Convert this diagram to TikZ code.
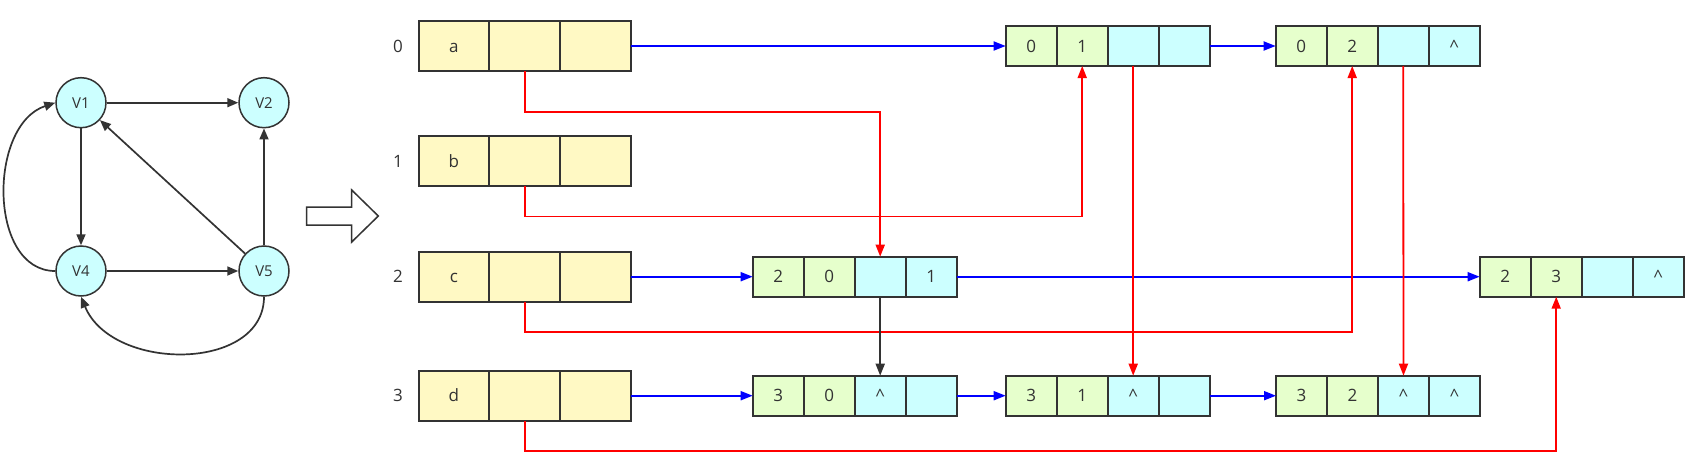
\documentclass[tikz,border=0pt]{standalone}
\usepackage{fontspec}
\setmainfont{Open Sans}
\usetikzlibrary{arrows.meta}
\definecolor{bd}{HTML}{333333}
\definecolor{yel}{HTML}{FFF9C4}
\definecolor{grn}{HTML}{E6FFCC}
\definecolor{cyn}{HTML}{CCFFFF}
\definecolor{rl}{HTML}{FF0000}
\definecolor{bl}{HTML}{0000FF}
\begin{document}
\begin{tikzpicture}[x=1pt,y=-1pt,
  cellfont/.style={font=\fontsize{17}{20}\selectfont,text=bd,text height=12.5pt,text depth=0pt},
  vcell/.style={draw=bd,line width=2pt,fill=yel,minimum width=70.8pt,minimum height=50pt,inner sep=0pt,outer sep=0pt,anchor=west,cellfont},
  gcell/.style={draw=bd,line width=2pt,fill=grn,minimum width=51pt,minimum height=40pt,inner sep=0pt,outer sep=0pt,anchor=west,cellfont},
  ccell/.style={gcell,fill=cyn},
  idx/.style={font=\fontsize{17}{20}\selectfont,text=bd,text height=12.5pt,text depth=0pt,inner sep=0pt},
  vert/.style={circle,draw=bd,line width=1.5pt,fill=cyn,minimum size=50pt,inner sep=0pt,font=\fontsize{15}{18}\selectfont,text=bd},
  gedge/.style={draw=bd,line width=1.7pt,-{Triangle[length=11pt,width=9pt]}},
  redl/.style={draw=rl,line width=1.8pt,-{Triangle[length=12pt,width=9pt]}},
  blul/.style={draw=bl,line width=1.8pt,-{Triangle[length=12pt,width=9pt]}},
  blkl/.style={draw=bd,line width=1.8pt,-{Triangle[length=12pt,width=9pt]}}
]
\useasboundingbox (0,0) rectangle (1700,471);
\fill[white] (0,0) rectangle (1700,471);

% graph
\node[vert] (V1) at (81,102.7) {V1};
\node[vert] (V2) at (264,102.7) {V2};
\node[vert] (V4) at (81,271) {V4};
\node[vert] (V5) at (264,271) {V5};
\draw[gedge] (V1) -- (V2);
\draw[gedge] (V1) -- (V4);
\draw[gedge] (V4) -- (V5);
\draw[gedge] (V5) -- (V2);
\draw[gedge] (V5) -- (V1);
\draw[gedge] (V4.west) .. controls (-12,271) and (-12,125) .. (V1.west);
\draw[gedge] (V5.south) .. controls (264,372) and (112,372) .. (V4.south);

% hollow arrow
\draw[draw=bd,fill=white,line width=1.5pt,line join=miter] (306.7,207) -- (351.7,207) -- (351.7,190) -- (378.3,216) -- (351.7,242) -- (351.7,225) -- (306.7,225) -- cycle;

% index labels
\node[idx] (i0) at (398,46) {0};
\node[idx] (i1) at (398,161) {1};
\node[idx] (i2) at (398,276.7) {2};
\node[idx] (i3) at (398,395.7) {3};

% vertex table
\node[vcell] (v0a) at (418.5,46) {a};
\node[vcell] (v0b) at (v0a.east) {};
\node[vcell] (v0c) at (v0b.east) {};
\node[vcell] (v1a) at (418.5,161) {b};
\node[vcell] (v1b) at (v1a.east) {};
\node[vcell] (v1c) at (v1b.east) {};
\node[vcell] (v2a) at (418.5,276.7) {c};
\node[vcell] (v2b) at (v2a.east) {};
\node[vcell] (v2c) at (v2b.east) {};
\node[vcell] (v3a) at (418.5,395.7) {d};
\node[vcell] (v3b) at (v3a.east) {};
\node[vcell] (v3c) at (v3b.east) {};

% edge nodes
\node[gcell] (n01a) at (1005.7,46) {0};
\node[gcell] (n01b) at (n01a.east) {1};
\node[ccell] (n01c) at (n01b.east) {};
\node[ccell] (n01d) at (n01c.east) {};

\node[gcell] (n02a) at (1275.7,46) {0};
\node[gcell] (n02b) at (n02a.east) {2};
\node[ccell] (n02c) at (n02b.east) {};
\node[ccell] (n02d) at (n02c.east) {\^{}};

\node[gcell] (n20a) at (752.7,276.7) {2};
\node[gcell] (n20b) at (n20a.east) {0};
\node[ccell] (n20c) at (n20b.east) {};
\node[ccell] (n20d) at (n20c.east) {1};

\node[gcell] (n23a) at (1479.7,276.7) {2};
\node[gcell] (n23b) at (n23a.east) {3};
\node[ccell] (n23c) at (n23b.east) {};
\node[ccell] (n23d) at (n23c.east) {\^{}};

\node[gcell] (n30a) at (752.7,395.7) {3};
\node[gcell] (n30b) at (n30a.east) {0};
\node[ccell] (n30c) at (n30b.east) {\^{}};
\node[ccell] (n30d) at (n30c.east) {};

\node[gcell] (n31a) at (1005.7,395.7) {3};
\node[gcell] (n31b) at (n31a.east) {1};
\node[ccell] (n31c) at (n31b.east) {\^{}};
\node[ccell] (n31d) at (n31c.east) {};

\node[gcell] (n32a) at (1276,395.7) {3};
\node[gcell] (n32b) at (n32a.east) {2};
\node[ccell] (n32c) at (n32b.east) {\^{}};
\node[ccell] (n32d) at (n32c.east) {\^{}};

% blue links
\draw[blul] (v0c.east) -- (n01a.west);
\draw[blul] (n01d.east) -- (n02a.west);
\draw[blul] (v2c.east) -- (n20a.west);
\draw[blul] (n20d.east) -- (n23a.west);
\draw[blul] (v3c.east) -- (n30a.west);
\draw[blul] (n30d.east) -- (n31a.west);
\draw[blul] (n31d.east) -- (n32a.west);

% red links
\draw[redl] (v0b.south) -- ++(0,41) -| (n20c.north);
\draw[redl] (v1b.south) -- ++(0,30.5) -| (n01b.south);
\draw[redl] (v2b.south) -- ++(0,30.5) -| (n02b.south);
\draw[redl] (v3b.south) -- ++(0,30.5) -| (n23b.south);
\draw[redl] (n01c.south) -- (n31c.north);
\draw[redl] (n02c.south) -- (n32c.north);

% black link
\draw[blkl] (n20c.south) -- (n30c.north);
\end{tikzpicture}
\end{document}
